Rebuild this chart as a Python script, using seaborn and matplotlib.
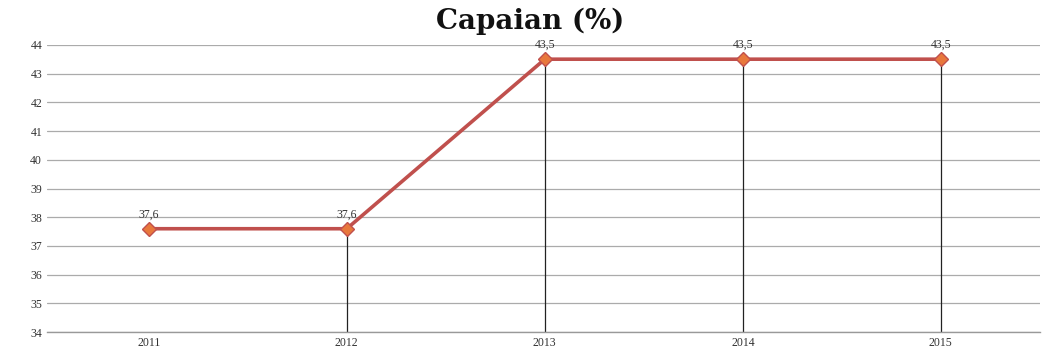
import matplotlib
matplotlib.use("Agg")
import matplotlib.pyplot as plt
import seaborn as sns
import pandas as pd

years = ["2011", "2012", "2013", "2014", "2015"]
capaian = [37.6, 37.6, 43.5, 43.5, 43.5]
value_labels = ["37,6", "37,6", "43,5", "43,5", "43,5"]
y_ticks = list(range(34, 45))

sns.set_theme(style="white")
plt.rcParams["font.family"] = ["Liberation Serif", "DejaVu Serif"]

df = pd.DataFrame({"Tahun": years, "Capaian": capaian})

fig = plt.figure(figsize=(10.43, 3.53), dpi=100)
ax = fig.add_axes([0.045, 0.059, 0.952, 0.814])

ax.set_ylim(34, 44)
ax.set_yticks(y_ticks)
ax.yaxis.grid(True, color="#ababab", linewidth=0.9)
ax.set_axisbelow(True)

# drop lines from each point (after the first) down to the axis
for i in range(1, len(years)):
    ax.vlines(i, 34, capaian[i], color="#222222", linewidth=0.9, zorder=2)

sns.lineplot(data=df, x="Tahun", y="Capaian", ax=ax, color="#c0504d",
             linewidth=2.6, marker="D", markersize=7,
             markerfacecolor="#e8783c", markeredgecolor="#c0504d",
             markeredgewidth=1.0, zorder=3, sort=False)

for i, (v, lab) in enumerate(zip(capaian, value_labels)):
    ax.annotate(lab, (i, v), xytext=(0, 6), textcoords="offset points",
                ha="center", va="bottom", fontsize=8.5, color="#333333")

ax.set_xlim(-0.514, 4.44)
ax.set_xlabel("")
ax.set_ylabel("")
ax.tick_params(axis="both", labelsize=8.5, colors="#333333", length=0)
ax.set_xticks(range(len(years)))
ax.set_xticklabels(years)
ax.set_xticks([i + 0.5 for i in range(-1, len(years))], minor=True)
ax.tick_params(axis="x", which="minor", length=4, color="#bbbbbb", direction="out")

for side in ["top", "right", "left"]:
    ax.spines[side].set_visible(False)
ax.spines["bottom"].set_color("#999999")
ax.spines["bottom"].set_linewidth(1.0)

fig.text(0.508, 0.94, "Capaian (%)", ha="center", va="center", fontsize=20,
         fontweight="bold", color="#111111", family=["DejaVu Serif"])

fig.savefig("out.png", dpi=100)
